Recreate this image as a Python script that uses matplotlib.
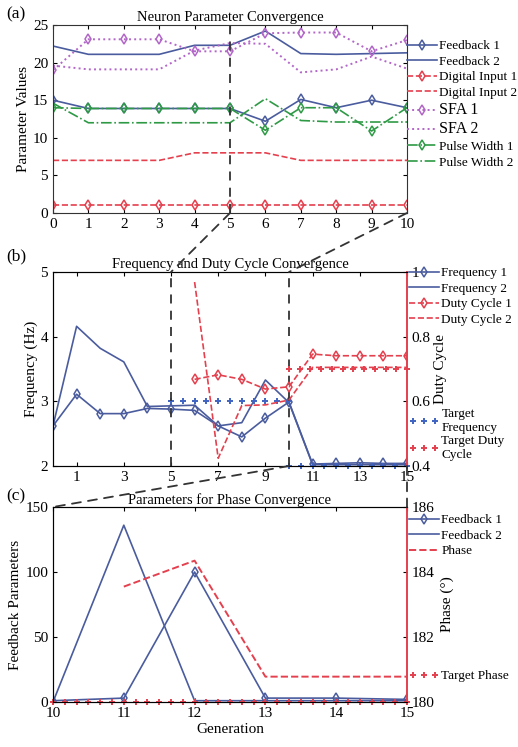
import numpy as np
import matplotlib
matplotlib.use("Agg")
import matplotlib.pyplot as plt
from matplotlib.patches import ConnectionPatch

plt.rcParams["font.family"] = ["Liberation Serif", "DejaVu Serif"]
plt.rcParams["font.size"] = 11
plt.rcParams["legend.numpoints"] = 1

BLUE = "#4a5c9e"
RED = "#e4404e"
PURPLE = "#b266c8"
GREEN = "#2f9a46"
TBLUE = "#3e63c2"
DARK = "#333333"

# panel (a): neuron parameters
gen_a = [0, 1, 2, 3, 4, 5, 6, 7, 8, 9, 10]
feedback1_a = [15.0, 13.9, 13.9, 13.9, 13.9, 13.9, 12.2, 15.1, 14.0, 15.0, 14.0]
feedback2_a = [22.2, 21.1, 21.1, 21.1, 22.3, 22.3, 24.2, 21.2, 21.1, 21.2, 21.3]
digital1_a = [1.0, 1.0, 1.0, 1.0, 1.0, 1.0, 1.0, 1.0, 1.0, 1.0, 1.0]
digital2_a = [7.0, 7.0, 7.0, 7.0, 8.0, 8.0, 8.0, 7.0, 7.0, 7.0, 7.0]
sfa1_a = [19.0, 23.1, 23.1, 23.1, 21.5, 21.5, 23.9, 24.0, 24.0, 21.5, 23.0]
sfa2_a = [19.6, 19.1, 19.1, 19.1, 21.6, 22.6, 22.5, 18.7, 19.1, 20.8, 19.2]
pw1_a = [14.0, 13.9, 13.9, 13.9, 13.9, 13.9, 11.0, 14.0, 14.0, 10.9, 14.0]
pw2_a = [14.6, 12.0, 12.0, 12.0, 12.0, 12.0, 15.2, 12.3, 12.1, 12.1, 12.1]

# panel (b): frequency and duty cycle
gen_b = list(range(16))
freq1_b = [2.62, 3.11, 2.81, 2.81, 2.89, 2.88, 2.86, 2.62, 2.45, 2.74, 2.99,
           2.03, 2.04, 2.05, 2.04, 2.04]
freq2_b = [2.62, 4.16, 3.82, 3.61, 2.92, 2.93, 2.94, 2.62, 2.67, 3.33, 2.98,
           2.02, 2.02, 2.02, 2.02, 2.02]
gen_duty = [6, 7, 8, 9, 10, 11, 12, 13, 14, 15]
duty1_b = [0.668, 0.682, 0.668, 0.638, 0.645, 0.746, 0.741, 0.741, 0.741, 0.741]
duty2_b = [0.969, 0.424, 0.587, 0.589, 0.604, 0.705, 0.705, 0.705, 0.705, 0.705]
target_freq = [(5, 10, 3.0), (10, 15, 2.0)]
target_duty = [(10, 15, 0.7)]

# panel (c): phase
gen_c = [10, 11, 12, 13, 14, 15]
fb1_c = [1, 3, 100, 3, 3, 2]
fb2_c = [0, 136, 1, 1, 1, 1]
gen_phase = [11, 12, 13, 14, 15]
phase_c = [183.55, 184.35, 180.78, 180.78, 180.78]
target_phase = [(10, 15, 180.0)]

W, H = 518, 747
fig = plt.figure(figsize=(W / 100, H / 100), dpi=100)


def box(left, top, right, bottom):
    return [left / W, 1 - bottom / H, (right - left) / W, (bottom - top) / H]


ax_a = fig.add_axes(box(53, 25, 407, 213))
ax_b = fig.add_axes(box(53, 272, 407, 466))
ax_c = fig.add_axes(box(53, 507, 407, 702))

dia = dict(marker="d", markersize=5, markerfacecolor="none", markeredgewidth=1.1)
lw = 1.2
LEG = dict(loc="upper left", frameon=False, fontsize=9.5, handlelength=2.3,
           handletextpad=0.15, labelspacing=0.25, borderaxespad=0, borderpad=0)


def targets(ax, segs, n, color, label=None):
    for i, (x0, x1, v) in enumerate(segs):
        ax.plot(np.linspace(x0, x1, n), [v] * n, ls="none", marker="+",
                ms=5, mew=1.4, color=color, clip_on=False,
                label=label if i == 0 else None)


# ---- (a)
ax_a.plot(gen_a, feedback1_a, "-", color=BLUE, lw=lw, label="Feedback 1", **dia)
ax_a.plot(gen_a, feedback2_a, "-", color=BLUE, lw=lw, label="Feedback 2")
ax_a.plot(gen_a, digital1_a, "--", color=RED, lw=lw, label="Digital Input 1", **dia)
ax_a.plot(gen_a, digital2_a, "--", color=RED, lw=lw, label="Digital Input 2")
ax_a.plot(gen_a, sfa1_a, ":", color=PURPLE, lw=1.4, label="SFA 1", **dia)
ax_a.plot(gen_a, sfa2_a, ":", color=PURPLE, lw=1.4, label="SFA 2")
ax_a.plot(gen_a, pw1_a, "-.", color=GREEN, lw=lw, label="Pulse Width 1", **dia)
ax_a.plot(gen_a, pw2_a, "-.", color=GREEN, lw=lw, label="Pulse Width 2")
ax_a.axvline(5, color=DARK, ls=(0, (5, 4)), lw=1.3)
ax_a.set_xlim(0, 10)
ax_a.set_ylim(0, 25)
ax_a.set_xticks(range(0, 11))
ax_a.set_yticks(range(0, 26, 5))
ax_a.tick_params(direction="in", top=True, right=True, length=3)
ax_a.set_ylabel("Parameter Values", labelpad=2)
ax_a.set_title("Neuron Parameter Convergence", fontsize=10.5, pad=3)
leg = fig.legend(*ax_a.get_legend_handles_labels(),
                 bbox_to_anchor=(407 / W, 1 - 40 / H), **LEG)
for t in leg.get_texts():
    if t.get_text().startswith("SFA"):
        t.set_fontsize(11.5)

# ---- (b)
ax_b2 = ax_b.twinx()
ax_b.plot(gen_b, freq1_b, "-", color=BLUE, lw=lw, label="Frequency 1", **dia)
ax_b.plot(gen_b, freq2_b, "-", color=BLUE, lw=lw, label="Frequency 2")
ax_b2.plot(gen_duty, duty1_b, "--", color=RED, lw=lw, label="Duty Cycle 1", **dia)
ax_b2.plot(gen_duty, duty2_b, "--", color=RED, lw=lw, label="Duty Cycle 2")
targets(ax_b, target_freq, 11, TBLUE, "Target\nFrequency")
targets(ax_b2, target_duty, 12, RED, "Target Duty\nCycle")
for x in (5, 10):
    ax_b.axvline(x, color=DARK, ls=(0, (5, 4)), lw=1.3)
ax_b.set_xlim(0, 15)
ax_b.set_ylim(2, 5)
ax_b2.set_ylim(0.4, 1.0)
ax_b.set_xticks(range(1, 16, 2))
ax_b.set_yticks([2, 3, 4, 5])
ax_b2.set_yticks([0.4, 0.6, 0.8, 1.0], ["0.4", "0.6", "0.8", "1"])
ax_b.tick_params(direction="in", top=True, length=3)
ax_b2.tick_params(direction="in", length=3)
ax_b.set_ylabel("Frequency (Hz)", labelpad=2)
ax_b2.set_ylabel("Duty Cycle", labelpad=2)
ax_b.set_title("Frequency and Duty Cycle Convergence", fontsize=10.5, pad=3)
for a in (ax_b, ax_b2):
    a.spines["right"].set_color(RED)
    a.spines["right"].set_linewidth(1.2)

hb, lb = ax_b.get_legend_handles_labels()
hb2, lb2 = ax_b2.get_legend_handles_labels()
fig.legend(hb[:2] + hb2[:2], lb[:2] + lb2[:2],
           bbox_to_anchor=(409 / W, 1 - 267 / H), **LEG)
fig.legend(hb[2:] + hb2[2:], lb[2:] + lb2[2:],
           bbox_to_anchor=(409 / W, 1 - 408 / H), numpoints=3,
           **{**LEG, "labelspacing": 0.1})

# ---- (c)
ax_c2 = ax_c.twinx()
ax_c.plot(gen_c, fb1_c, "-", color=BLUE, lw=lw, label="Feedback 1", **dia)
ax_c.plot(gen_c, fb2_c, "-", color=BLUE, lw=lw, label="Feedback 2")
ax_c2.plot(gen_phase, phase_c, "--", color=RED, lw=1.4, label="Phase")
targets(ax_c2, target_phase, 31, RED, "Target Phase")
ax_c.set_xlim(10, 15)
ax_c.set_ylim(0, 150)
ax_c2.set_ylim(180, 186)
ax_c.set_xticks(range(10, 16))
ax_c.set_yticks([0, 50, 100, 150])
ax_c2.set_yticks([180, 182, 184, 186])
ax_c.tick_params(direction="in", top=True, length=3)
ax_c2.tick_params(direction="in", length=3)
ax_c.set_ylabel("Feedback Parameters", labelpad=2)
ax_c2.set_ylabel("Phase (°)", labelpad=4)
ax_c.set_xlabel("Generation", labelpad=2)
ax_c.set_title("Parameters for Phase Convergence", fontsize=10.5, pad=1)
for a in (ax_c, ax_c2):
    a.spines["right"].set_color(RED)
    a.spines["right"].set_linewidth(1.2)

hc, lc = ax_c.get_legend_handles_labels()
hc2, lc2 = ax_c2.get_legend_handles_labels()
fig.legend(hc + hc2[:1], lc + lc2[:1],
           bbox_to_anchor=(409 / W, 1 - 514 / H), **LEG)
fig.legend(hc2[1:], lc2[1:], bbox_to_anchor=(409 / W, 1 - 670 / H),
           numpoints=3, **LEG)

for a in (ax_a, ax_b, ax_c):
    for s in ("left", "bottom", "top"):
        a.spines[s].set_color(DARK)
ax_a.spines["right"].set_color(DARK)

# zoom connectors
conns = [
    (ax_a, (5, 0), ax_b, (5, 5)),
    (ax_a, (10, 0), ax_b, (10, 5)),
    (ax_b, (10, 2), ax_c, (10, 150)),
    (ax_b, (15, 2), ax_c, (15, 150)),
]
for axA, pA, axB, pB in conns:
    cp = ConnectionPatch(xyA=pA, coordsA=axA.transData, xyB=pB,
                         coordsB=axB.transData, color=DARK, lw=1.3,
                         ls=(0, (5, 4)))
    fig.add_artist(cp)

for lab, y in (("(a)", 14), ("(b)", 256), ("(c)", 496)):
    fig.text(6 / W, 1 - y / H, lab, fontsize=12.5, va="center")

fig.savefig("out.png", dpi=100)
